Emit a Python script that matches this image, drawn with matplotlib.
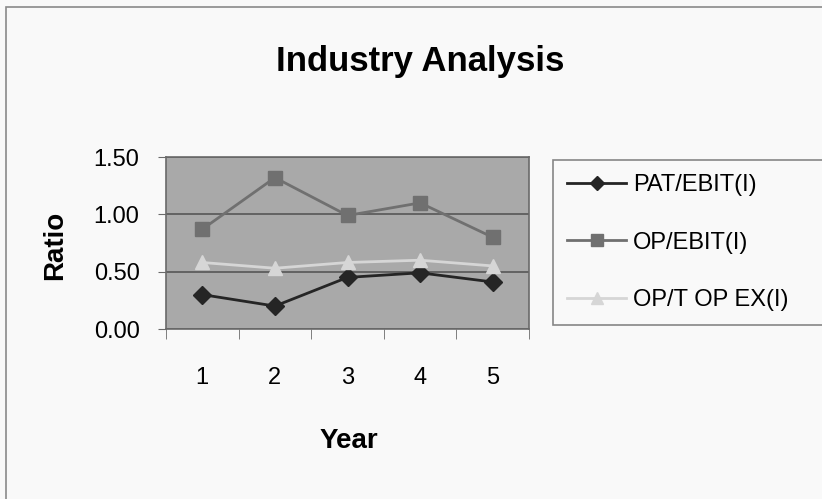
import matplotlib.pyplot as plt
from matplotlib.patches import Rectangle

# data
years = [1, 2, 3, 4, 5]
pat_ebit = [0.30, 0.20, 0.45, 0.49, 0.41]
op_ebit = [0.87, 1.32, 0.99, 1.10, 0.80]
op_topex = [0.58, 0.53, 0.58, 0.60, 0.55]
series_names = ['PAT/EBIT(I)', 'OP/EBIT(I)', 'OP/T OP EX(I)']
y_ticks = [0.0, 0.5, 1.0, 1.5]

plt.rcParams['font.family'] = ['Liberation Sans', 'DejaVu Sans']

W, H = 822, 499
fig = plt.figure(figsize=(W / 100, H / 100), dpi=100)
fig.patch.set_facecolor('#f9f9f9')

# chart border (left and top visible, rest cut off)
fig.patches.append(Rectangle((6 / W, -0.05), 1.1, 1 - 7 / H + 0.05, transform=fig.transFigure,
                             fill=False, edgecolor='#8a8a8a', linewidth=1.2))

ax = fig.add_axes([166 / W, 1 - 329 / H, 363 / W, 172 / H])
ax.set_facecolor('#a9a9a9')
for s in ax.spines.values():
    s.set_color('#6a6a6a')
    s.set_linewidth(1.2)

ax.set_xlim(0.5, 5.5)
ax.set_ylim(0, 1.5)
ax.set_yticks(y_ticks)
ax.set_yticklabels(['%.2f' % v for v in y_ticks])
ax.set_xticks(years)
ax.set_xticks([y - 0.5 for y in years] + [5.5], minor=True)
ax.tick_params(axis='x', which='major', length=0, pad=27, labelsize=17)
ax.tick_params(axis='x', which='minor', length=7, color='#6a6a6a', direction='out')
ax.tick_params(axis='y', length=6, color='#6a6a6a', pad=13, labelsize=17)
ax.grid(axis='y', color='#505050', linewidth=1.1)
ax.set_axisbelow(True)

l1, = ax.plot(years, pat_ebit, color='#252525', lw=2, marker='D', ms=9, label=series_names[0])
l2, = ax.plot(years, op_ebit, color='#707070', lw=2, marker='s', ms=10, label=series_names[1])
l3, = ax.plot(years, op_topex, color='#d6d6d6', lw=2, marker='^', ms=10, label=series_names[2])

fig.text(420 / W, 1 - 62 / H, 'Industry Analysis', ha='center', va='center',
         fontsize=25, fontweight='bold')
fig.text(55 / W, 1 - 245 / H, 'Ratio', ha='center', va='center', rotation=90,
         fontsize=20, fontweight='bold')
fig.text(349 / W, 1 - 441 / H, 'Year', ha='center', va='center',
         fontsize=20, fontweight='bold')

leg = fig.legend(handles=[l1, l2, l3], loc='upper left',
                 bbox_to_anchor=(553 / W, 1 - 327 / H, 320 / W, 167 / H), mode='expand',
                 fontsize=17, frameon=True, fancybox=False, borderaxespad=0,
                 handlelength=2.5, handletextpad=0.3, labelspacing=1.5, borderpad=0.6,
                 markerscale=0.8)
leg.get_frame().set_edgecolor('#6a6a6a')
leg.get_frame().set_facecolor('#f9f9f9')
leg.get_frame().set_linewidth(1.2)

fig.savefig('out.png', dpi=100)
